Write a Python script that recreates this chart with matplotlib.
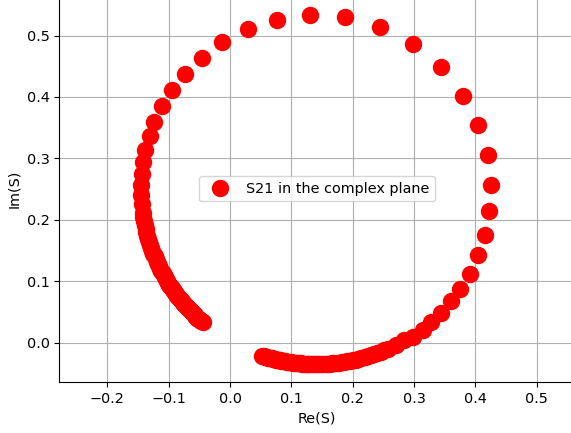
import matplotlib
matplotlib.use("Agg")
import matplotlib.pyplot as plt

plt.rcParams['font.size'] = 10.4

# S21 points, in three stretches:
# dense tail on the left, sparse arc over the top, dense tail at the bottom

left_re = [-0.0447, -0.0468, -0.0488, -0.0503, -0.0518, -0.0533, -0.0547, -0.0563,
           -0.0578, -0.0593, -0.0608, -0.0624, -0.0640, -0.0656, -0.0672, -0.0688,
           -0.0703, -0.0720, -0.0736, -0.0753, -0.0770, -0.0788, -0.0805, -0.0823,
           -0.0841, -0.0859, -0.0877, -0.0896, -0.0914, -0.0933, -0.0952, -0.0971,
           -0.0989, -0.1008, -0.1026, -0.1045, -0.1063, -0.1082, -0.1100, -0.1119,
           -0.1137, -0.1156, -0.1175, -0.1194, -0.1212, -0.1230, -0.1248, -0.1266,
           -0.1283, -0.1300, -0.1317, -0.1333, -0.1348, -0.1362, -0.1376, -0.1389,
           -0.1401, -0.1413, -0.1423]
left_im = [0.0330, 0.0348, 0.0366, 0.0379, 0.0392, 0.0406, 0.0419, 0.0434,
           0.0448, 0.0463, 0.0478, 0.0494, 0.0510, 0.0527, 0.0543, 0.0560,
           0.0577, 0.0596, 0.0614, 0.0634, 0.0653, 0.0674, 0.0695, 0.0717,
           0.0739, 0.0763, 0.0787, 0.0812, 0.0837, 0.0864, 0.0890, 0.0918,
           0.0946, 0.0976, 0.1005, 0.1036, 0.1066, 0.1099, 0.1131, 0.1167,
           0.1202, 0.1240, 0.1278, 0.1319, 0.1359, 0.1403, 0.1446, 0.1493,
           0.1539, 0.1589, 0.1638, 0.1691, 0.1743, 0.1799, 0.1854, 0.1915,
           0.1976, 0.2042, 0.2108]

arc_re = [-0.1439, -0.1448, -0.1455, -0.1440, -0.1420, -0.1380, -0.1310, -0.1235,
          -0.1110, -0.0940, -0.0730, -0.0460, -0.0130, 0.0290, 0.0770, 0.1305,
          0.1870, 0.2440, 0.2980, 0.3440, 0.3800, 0.4050, 0.4210, 0.4250,
          0.4230, 0.4160, 0.4050, 0.3910, 0.3750, 0.3600, 0.3440, 0.3280,
          0.3140, 0.2990, 0.2834, 0.2703]
arc_im = [0.2252, 0.2406, 0.2570, 0.2750, 0.2940, 0.3130, 0.3365, 0.3595,
          0.3850, 0.4110, 0.4380, 0.4640, 0.4890, 0.5110, 0.5260, 0.5340,
          0.5300, 0.5140, 0.4860, 0.4480, 0.4020, 0.3540, 0.3050, 0.2570,
          0.2140, 0.1750, 0.1420, 0.1120, 0.0880, 0.0680, 0.0480, 0.0340,
          0.0210, 0.0100, 0.0037, -0.0035]

bottom_re = [0.2577, 0.2518, 0.2458, 0.2403, 0.2347, 0.2295, 0.2243, 0.2193,
             0.2142, 0.2094, 0.2046, 0.2000, 0.1954, 0.1910, 0.1865, 0.1824,
             0.1782, 0.1743, 0.1703, 0.1666, 0.1629, 0.1593, 0.1557, 0.1522,
             0.1487, 0.1454, 0.1420, 0.1388, 0.1355, 0.1324, 0.1293, 0.1263,
             0.1233, 0.1205, 0.1176, 0.1149, 0.1122, 0.1096, 0.1070, 0.1046,
             0.1021, 0.0996, 0.0971, 0.0948, 0.0925, 0.0903, 0.0881, 0.0860,
             0.0839, 0.0819, 0.0798, 0.0777, 0.0756, 0.0737, 0.0718, 0.0699,
             0.0679, 0.0661, 0.0643, 0.0625, 0.0607, 0.0590, 0.0572, 0.0551,
             0.0529]
bottom_im = [-0.0095, -0.0120, -0.0146, -0.0167, -0.0188, -0.0206, -0.0223, -0.0238,
             -0.0252, -0.0264, -0.0276, -0.0286, -0.0296, -0.0304, -0.0312, -0.0318,
             -0.0324, -0.0329, -0.0334, -0.0338, -0.0341, -0.0344, -0.0346, -0.0348,
             -0.0349, -0.0350, -0.0350, -0.0350, -0.0350, -0.0349, -0.0348, -0.0347,
             -0.0345, -0.0343, -0.0341, -0.0339, -0.0336, -0.0334, -0.0331, -0.0328,
             -0.0325, -0.0322, -0.0318, -0.0314, -0.0310, -0.0306, -0.0302, -0.0298,
             -0.0294, -0.0290, -0.0286, -0.0281, -0.0276, -0.0272, -0.0267, -0.0262,
             -0.0257, -0.0253, -0.0248, -0.0243, -0.0238, -0.0233, -0.0227, -0.0221,
             -0.0214]

re_s = left_re + arc_re + bottom_re
im_s = left_im + arc_im + bottom_im

fig = plt.figure(figsize=(5.71, 4.33), dpi=100)
ax = fig.add_axes([0.1039, 0.1171, 0.9031, 0.8944])

ax.plot(re_s, im_s, 'ro', markersize=11.5, label='S21 in the complex plane')

ax.set_xlim(-0.2783, 0.5624)
ax.set_ylim(-0.0645, 0.5659)
ax.set_xticks([-0.2, -0.1, 0.0, 0.1, 0.2, 0.3, 0.4, 0.5])
ax.set_yticks([0.0, 0.1, 0.2, 0.3, 0.4, 0.5])
ax.set_xlabel('Re(S)')
ax.set_ylabel('Im(S)')
ax.grid(True)
ax.legend(loc='center')

fig.savefig('out.png', dpi=100)
